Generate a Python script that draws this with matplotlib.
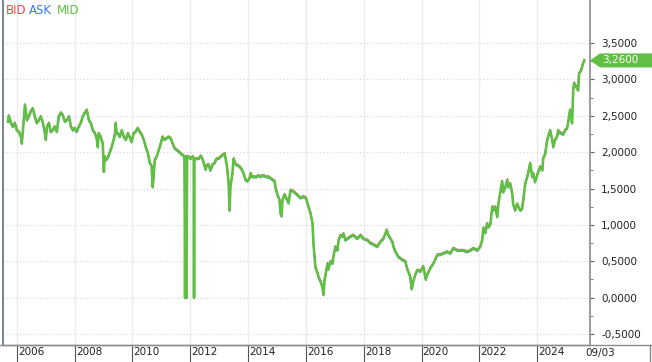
import numpy as np
import matplotlib
matplotlib.use("Agg")
import matplotlib.pyplot as plt
import matplotlib.transforms as mtransforms
from matplotlib.patches import Polygon
from matplotlib.lines import Line2D
from matplotlib.ticker import FuncFormatter, FixedLocator

# 시세 (연도 소수, MID 값)
years = [2005.69, 2005.72, 2005.76, 2005.79, 2005.86, 2005.93, 2006.00, 2006.07, 2006.14, 2006.17,
         2006.21, 2006.26, 2006.28, 2006.35, 2006.41, 2006.48, 2006.55, 2006.62, 2006.69, 2006.76,
         2006.83, 2006.90, 2006.97, 2007.00, 2007.04, 2007.11, 2007.17, 2007.24, 2007.31, 2007.38,
         2007.45, 2007.52, 2007.59, 2007.66, 2007.73, 2007.80, 2007.87, 2007.94, 2008.00, 2008.07,
         2008.14, 2008.21, 2008.28, 2008.35, 2008.42, 2008.49, 2008.56, 2008.63, 2008.70, 2008.76,
         2008.80, 2008.83, 2008.90, 2008.97, 2009.01, 2009.04, 2009.08, 2009.14, 2009.21, 2009.28,
         2009.35, 2009.40, 2009.42, 2009.45, 2009.49, 2009.56, 2009.63, 2009.70, 2009.77, 2009.84,
         2009.90, 2009.97, 2010.04, 2010.11, 2010.18, 2010.25, 2010.32, 2010.39, 2010.46, 2010.53,
         2010.60, 2010.66, 2010.70, 2010.73, 2010.77, 2010.84, 2010.91, 2010.98, 2011.04, 2011.11,
         2011.18, 2011.25, 2011.32, 2011.39, 2011.46, 2011.53, 2011.60, 2011.67, 2011.74, 2011.80,
         2011.82, 2011.84, 2011.86, 2011.87, 2011.89, 2011.94, 2012.01, 2012.08, 2012.12, 2012.13,
         2012.14, 2012.22, 2012.29, 2012.36, 2012.43, 2012.50, 2012.53, 2012.57, 2012.63, 2012.70,
         2012.77, 2012.84, 2012.91, 2012.98, 2013.05, 2013.12, 2013.19, 2013.26, 2013.29, 2013.33,
         2013.36, 2013.39, 2013.46, 2013.50, 2013.57, 2013.64, 2013.71, 2013.77, 2013.84, 2013.91,
         2013.98, 2014.05, 2014.09, 2014.15, 2014.22, 2014.29, 2014.36, 2014.43, 2014.50, 2014.57,
         2014.64, 2014.71, 2014.78, 2014.85, 2014.92, 2014.95, 2015.02, 2015.09, 2015.12, 2015.16,
         2015.19, 2015.26, 2015.33, 2015.40, 2015.47, 2015.57, 2015.71, 2015.81, 2015.92, 2016.00,
         2016.09, 2016.16, 2016.23, 2016.26, 2016.33, 2016.40, 2016.44, 2016.50, 2016.57, 2016.61,
         2016.64, 2016.75, 2016.78, 2016.85, 2016.92, 2016.95, 2017.02, 2017.09, 2017.13, 2017.20,
         2017.26, 2017.30, 2017.37, 2017.44, 2017.54, 2017.64, 2017.78, 2017.89, 2017.99, 2018.13,
         2018.23, 2018.34, 2018.47, 2018.58, 2018.68, 2018.80, 2018.85, 2018.99, 2019.03, 2019.10,
         2019.20, 2019.34, 2019.44, 2019.51, 2019.61, 2019.66, 2019.68, 2019.72, 2019.79, 2019.86,
         2019.96, 2020.06, 2020.15, 2020.20, 2020.31, 2020.41, 2020.55, 2020.65, 2020.75, 2020.89,
         2021.00, 2021.10, 2021.24, 2021.34, 2021.45, 2021.58, 2021.69, 2021.79, 2021.93, 2022.03,
         2022.10, 2022.14, 2022.21, 2022.27, 2022.31, 2022.38, 2022.45, 2022.48, 2022.55, 2022.62,
         2022.66, 2022.72, 2022.79, 2022.83, 2022.90, 2022.97, 2023.00, 2023.07, 2023.14, 2023.17,
         2023.24, 2023.31, 2023.35, 2023.42, 2023.48, 2023.52, 2023.59, 2023.66, 2023.69, 2023.76,
         2023.83, 2023.86, 2023.93, 2024.00, 2024.04, 2024.11, 2024.18, 2024.21, 2024.28, 2024.35,
         2024.38, 2024.45, 2024.52, 2024.56, 2024.62, 2024.69, 2024.73, 2024.80, 2024.87, 2024.90,
         2024.97, 2025.04, 2025.07, 2025.14, 2025.21, 2025.25, 2025.28, 2025.35, 2025.42, 2025.45,
         2025.52, 2025.59, 2025.63]
mid = [2.42, 2.50, 2.45, 2.40, 2.35, 2.40, 2.30, 2.28, 2.21, 2.12,
       2.30, 2.55, 2.65, 2.44, 2.49, 2.56, 2.60, 2.49, 2.40, 2.44,
       2.49, 2.40, 2.26, 2.17, 2.35, 2.40, 2.28, 2.30, 2.35, 2.28,
       2.49, 2.54, 2.51, 2.42, 2.44, 2.49, 2.35, 2.30, 2.33, 2.28,
       2.35, 2.40, 2.49, 2.54, 2.58, 2.44, 2.40, 2.30, 2.26, 2.19,
       2.07, 2.26, 2.21, 2.12, 1.73, 1.94, 1.89, 1.92, 1.99, 2.07,
       2.17, 2.26, 2.40, 2.26, 2.26, 2.21, 2.30, 2.21, 2.17, 2.26,
       2.21, 2.14, 2.26, 2.28, 2.33, 2.28, 2.24, 2.17, 2.07, 1.99,
       1.85, 1.81, 1.52, 1.66, 1.89, 1.94, 2.03, 2.12, 2.21, 2.17,
       2.19, 2.21, 2.19, 2.12, 2.05, 2.03, 2.01, 1.98, 1.96, 1.94,
       0.00, 1.94, 1.93, 0.00, 1.94, 1.94, 1.91, 1.94, 1.92, 0.00,
       1.90, 1.91, 1.91, 1.95, 1.90, 1.80, 1.76, 1.82, 1.83, 1.75,
       1.83, 1.85, 1.91, 1.91, 1.94, 1.96, 1.98, 1.83, 1.73, 1.55,
       1.20, 1.53, 1.71, 1.91, 1.83, 1.82, 1.80, 1.77, 1.71, 1.62,
       1.60, 1.64, 1.71, 1.66, 1.66, 1.66, 1.68, 1.66, 1.68, 1.67,
       1.66, 1.66, 1.64, 1.62, 1.60, 1.51, 1.41, 1.34, 1.16, 1.12,
       1.34, 1.42, 1.36, 1.30, 1.48, 1.46, 1.41, 1.37, 1.39, 1.37,
       1.25, 1.16, 1.02, 0.75, 0.42, 0.34, 0.28, 0.23, 0.15, 0.04,
       0.23, 0.47, 0.39, 0.50, 0.47, 0.56, 0.70, 0.65, 0.79, 0.86,
       0.84, 0.88, 0.79, 0.81, 0.84, 0.86, 0.81, 0.86, 0.81, 0.79,
       0.75, 0.73, 0.70, 0.77, 0.81, 0.93, 0.86, 0.77, 0.70, 0.63,
       0.56, 0.52, 0.50, 0.39, 0.29, 0.12, 0.15, 0.23, 0.32, 0.38,
       0.36, 0.43, 0.25, 0.32, 0.41, 0.47, 0.59, 0.59, 0.61, 0.63,
       0.61, 0.68, 0.65, 0.65, 0.65, 0.63, 0.65, 0.68, 0.65, 0.70,
       0.79, 0.96, 0.89, 1.02, 0.97, 1.00, 1.25, 1.20, 1.25, 1.11,
       1.29, 1.43, 1.60, 1.45, 1.52, 1.62, 1.52, 1.57, 1.43, 1.29,
       1.20, 1.29, 1.25, 1.20, 1.22, 1.34, 1.57, 1.66, 1.71, 1.85,
       1.66, 1.71, 1.59, 1.68, 1.73, 1.80, 1.75, 1.91, 1.98, 2.17,
       2.21, 2.30, 2.17, 2.07, 2.17, 2.21, 2.30, 2.26, 2.26, 2.24,
       2.30, 2.33, 2.40, 2.58, 2.40, 2.85, 2.95, 2.90, 2.85, 3.08,
       3.12, 3.22, 3.26]
spread = 0.012  # BID/ASK 차이

tick_years = [2006, 2008, 2010, 2012, 2014, 2016, 2018, 2020, 2022, 2024]
y_ticks = [-0.5, 0.0, 0.5, 1.0, 1.5, 2.0, 2.5, 3.0, 3.5]
y_minor = [-0.25, 0.25, 0.75, 1.25, 1.75, 2.25, 2.75, 3.25]
last_date = "09/03"

years = np.array(years)
mid = np.array(mid)
bid = mid + spread
ask = mid - spread

GREEN = "#62bf45"
RED = "#f24a4a"
BLUE = "#3b7bef"
FONT = ["Liberation Sans Narrow", "DejaVu Sans"]

fig = plt.figure(figsize=(6.52, 3.62), dpi=100)
ax = fig.add_axes([3 / 652, 17 / 362, 587 / 652, 345 / 362])

ax.plot(years, bid, color=RED, lw=1.0)
ax.plot(years, ask, color=BLUE, lw=1.0)
ax.plot(years, mid, color=GREEN, lw=1.9)

ax.set_xlim(2005.52, 2025.83)
ax.set_ylim(-0.65, 4.09)

# 격자
for y in tick_years:
    ax.axvline(y, color="#ececec", lw=1, zorder=0)
for v in y_ticks:
    ax.axhline(v, color="#d6d6d6", lw=0.8, ls=(0, (1, 2)), zorder=0)

# y축 (오른쪽)
ax.yaxis.tick_right()
ax.yaxis.set_major_locator(FixedLocator(y_ticks))
ax.yaxis.set_minor_locator(FixedLocator(y_minor))
ax.yaxis.set_major_formatter(FuncFormatter(lambda v, p: f"{v:.4f}".replace(".", ",")))
ax.tick_params(axis="y", which="major", direction="out", length=3, color="#666666",
               labelsize=7.5, pad=5, labelcolor="#222222")
ax.tick_params(axis="y", which="minor", direction="out", length=2, color="#666666")
for lab in ax.get_yticklabels():
    lab.set_family(FONT)

# x축
ax.set_xticks(tick_years)
ax.set_xticklabels([str(y) for y in tick_years])
ax.tick_params(axis="x", direction="out", length=12.5, color="#555555", width=0.8,
               labelsize=7.5, pad=-11, labelcolor="#222222")
offset = mtransforms.ScaledTranslation(0.8 / 72, 0, fig.dpi_scale_trans)
for lab in ax.get_xticklabels():
    lab.set_ha("left")
    lab.set_va("top")
    lab.set_family(FONT)
    lab.set_transform(lab.get_transform() + offset)

ax.spines["top"].set_visible(False)
ax.spines["left"].set_color("#6e7888")
ax.spines["left"].set_linewidth(1.3)
ax.spines["right"].set_color("#8a8a8a")
ax.spines["right"].set_linewidth(1.2)
ax.spines["bottom"].set_color("#8a8a8a")
ax.spines["bottom"].set_linewidth(1.0)

# 아래 날짜 띠
fig.add_artist(Line2D([0, 1], [17 / 362, 17 / 362], color="#8a8a8a", lw=1.0))
fig.add_artist(Line2D([649.5 / 652, 649.5 / 652], [0, 17 / 362], color="#8a8a8a", lw=1.0))
fig.text(585 / 652, 14 / 362, last_date, fontsize=7.5, color="#222222", va="top",
         family=FONT)

# 현재가 표시
tr = mtransforms.blended_transform_factory(fig.transFigure, ax.transData)
h = 7 / 72.75
last = mid[-1]
box = Polygon([(590 / 652, last), (600 / 652, last + h), (1.0, last + h),
               (1.0, last - h), (600 / 652, last - h)],
              closed=True, transform=tr, facecolor=GREEN, edgecolor="none", clip_on=False)
fig.add_artist(box)
fig.text(602 / 652, last, f"{last:.4f}".replace(".", ","), transform=tr, fontsize=7.5,
         color="white", va="center", ha="left", family=FONT)

# 범례
fig.text(6 / 652, 1 - 11 / 362, "BID", color=RED, fontsize=8.5, va="center", family=FONT)
fig.text(29 / 652, 1 - 11 / 362, "ASK", color=BLUE, fontsize=8.5, va="center", family=FONT)
fig.text(57 / 652, 1 - 11 / 362, "MID", color=GREEN, fontsize=8.5, va="center", family=FONT)

fig.savefig("out.png", dpi=100)
